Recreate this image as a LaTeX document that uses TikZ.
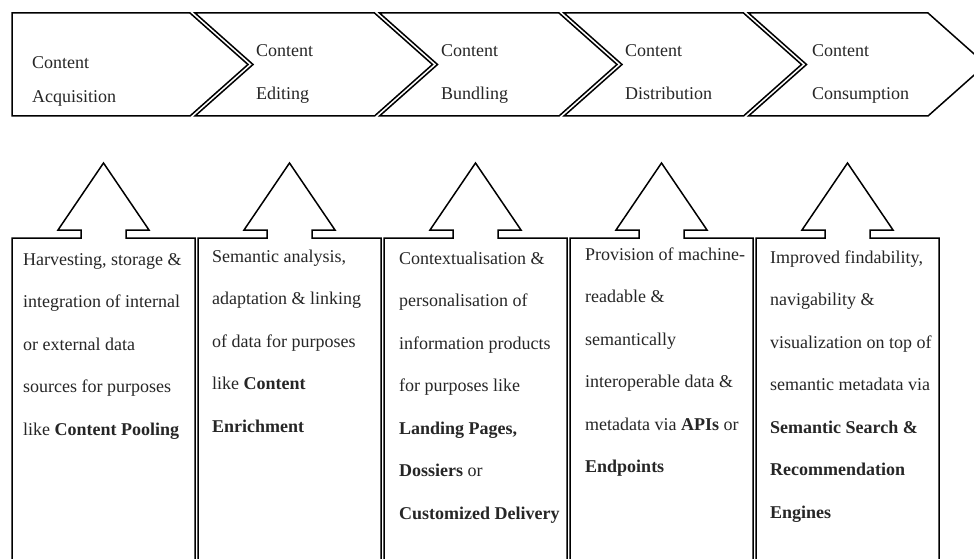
\documentclass[tikz,border=0pt]{standalone}
\usepackage{fontspec}
\setmainfont{Liberation Serif}
\newcommand{\linesin}[2]{\parbox[t]{200pt}{\fontsize{18}{#1}\selectfont\raggedright #2}}
\tikzset{
  outline/.style={draw=black, line width=1.5pt, line join=miter, fill=white},
  stagetext/.style={anchor=base west, inner sep=0pt, text=black!85},
  desctext/.style={anchor=base west, inner sep=0pt, text=black!85}
}
\begin{document}
\begin{tikzpicture}[x=1pt,y=-1pt]
  \useasboundingbox (0,0) rectangle (974,559);
  \clip (0,0) rectangle (974,559);
  \fill[white] (0,0) rectangle (974,559);

  % value chain: first stage has a flat back
  \draw[outline] (12,13) -- (190,13) -- (248,64.5) -- (190,116) -- (12,116) -- cycle;
  % remaining stages: notched chevrons
  \foreach \k in {1,...,4}{
    \pgfmathsetmacro{\L}{195+184.5*(\k-1)}
    \pgfmathsetmacro{\C}{190+184.5*\k}
    \draw[outline] (\L,13) -- (\C,13) -- (\C+58,64.5) -- (\C,116) -- (\L,116) -- (\L+58,64.5) -- cycle;
  }

  % stage labels
  \node[stagetext] (c1) at (32,69)  {\linesin{34}{Content\\Acquisition}};
  \node[stagetext] (c2) at (256,57) {\linesin{42.5}{Content\\Editing}};
  \node[stagetext] (c3) at (441,57) {\linesin{42.5}{Content\\Bundling}};
  \node[stagetext] (c4) at (625,57) {\linesin{42.5}{Content\\Distribution}};
  \node[stagetext] (c5) at (812,57) {\linesin{42.5}{Content\\Consumption}};

  % description boxes with upward arrow heads
  \foreach \k in {0,...,4}{
    \pgfmathsetmacro{\bl}{12+186*\k}
    \pgfmathsetmacro{\br}{\bl+183}
    \pgfmathsetmacro{\cx}{\bl+91.5}
    \draw[outline] (\bl,575) -- (\bl,238) -- (\cx-22.5,238) -- (\cx-22.5,230)
      -- (\cx-45.5,230) -- (\cx,163) -- (\cx+45.5,230) -- (\cx+22.5,230)
      -- (\cx+22.5,238) -- (\br,238) -- (\br,575);
  }

  % descriptions
  \node[desctext] (d1) at (23,265) {\linesin{42.5}{Harvesting, storage \&\\integration of internal\\or external data\\sources for purposes\\like \textbf{Content Pooling}}};
  \node[desctext] (d2) at (212,262) {\linesin{42.5}{Semantic analysis,\\adaptation \& linking\\of data for purposes\\like \textbf{Content}\\\textbf{Enrichment}}};
  \node[desctext] (d3) at (399,264) {\linesin{42.5}{Contextualisation \&\\personalisation of\\information products\\for purposes like\\\textbf{Landing Pages,}\\\textbf{Dossiers} or\\\textbf{Customized Delivery}}};
  \node[desctext] (d4) at (585,260) {\linesin{42.5}{Provision of machine-\\readable \&\\semantically\\interoperable data \&\\metadata via \textbf{APIs} or\\\textbf{Endpoints}}};
  \node[desctext] (d5) at (770,263) {\linesin{42.5}{Improved findability,\\navigability \&\\visualization on top of\\semantic metadata via\\\textbf{Semantic Search \&}\\\textbf{Recommendation}\\\textbf{Engines}}};
\end{tikzpicture}
\end{document}
